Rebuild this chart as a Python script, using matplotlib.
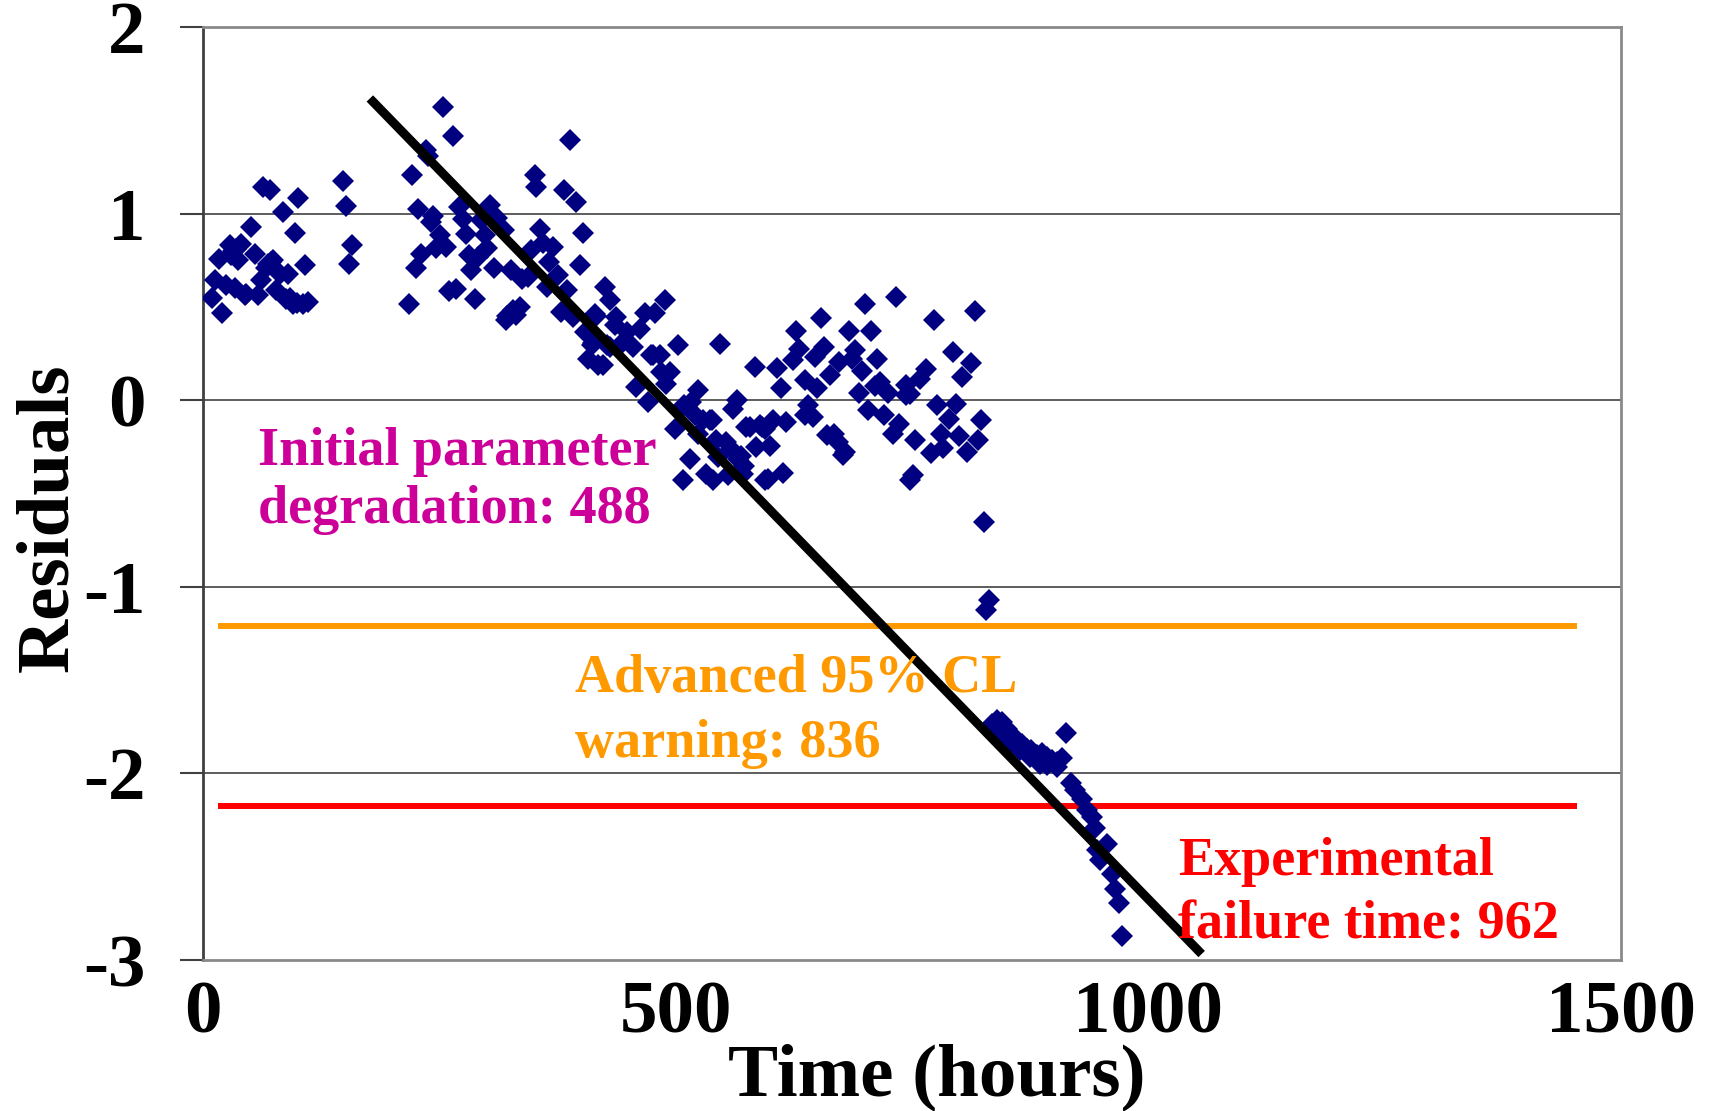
import matplotlib
matplotlib.use("Agg")
import matplotlib.pyplot as plt

# ---- data -------------------------------------------------------------
time_h = [
    10, 12.5, 17, 20.6, 24, 28.3, 30, 31.5, 33.6, 35, 37, 40.7, 44.2, 46, 51.3,
    54.8, 58.3, 61.8, 63.6, 67.1, 69, 70.7, 72, 74.2, 77.7, 81.3, 84.8, 88.3,
    90, 92, 95.3, 97, 99, 100.6, 106, 107.7, 111.2,
    148.2, 151.7, 154.5, 158,
    218, 221.2, 225, 227.5, 231, 236.4, 238, 241.7, 243.4, 247, 250.5, 254,
    257.5, 260.4, 264.6, 268, 270.8, 275, 277.8, 281.3, 283.8, 287.3, 290.9,
    294.4, 297.9, 300.4, 303.9, 307.4, 311.3, 318, 320.2, 322, 326.2, 327.9,
    331.5, 335, 337, 343.9, 347.4, 351, 352, 356.3, 359.8, 363.4, 366, 370.4,
    375.7, 378.2, 381.7, 385.3, 388.1, 391, 395.1, 398.7, 402.2, 403.9, 407.5,
    411, 412.7, 414.6,
    416.2, 417.8, 423.3, 425, 427.5, 430.3, 431, 436.3, 437.4, 443, 448, 455,
    457.8, 462, 467.4, 470.9, 474.4, 476.2, 478, 483.3, 485, 488.5, 490.3,
    493.8, 499, 502,
    508, 508.9, 515, 516, 520, 523.6, 523.8, 529, 532.5, 536, 538, 539.5,
    542.9, 545, 547.4, 553.5, 555, 558.8, 560.8, 564.4, 566, 569, 571, 572,
    574.9, 583.7, 585.5, 589, 594, 594.3,
    578.5, 590.8, 597.8, 600.3, 603.1, 607.3, 611, 613.7, 617.2, 623.6, 627.1,
    630.6, 636.6, 637, 640, 645, 647.2, 650, 653.9, 657, 659.6, 663.4, 668,
    671.5, 673, 676.6, 679, 683.5, 687, 689.5, 693.8, 696.6, 700, 703.6, 706.4,
    710.7, 713.5, 716.3, 720.2, 724.8, 729.4, 732.9, 736.4, 743.5, 744, 747.8,
    748, 751, 753, 758.3, 765.3, 769.6, 773, 776, 781.2, 782.6, 789.3, 792.9,
    796.4, 800, 803.4, 807.7, 812.9, 816.5, 819.3, 822.8,
    826, 828.3, 831.5,
    834.1, 839.4, 844.7, 850.0, 855.3, 860.6, 865.9, 871.2, 876.4, 881.7,
    887.0, 892.3, 897.6, 902.9, 908.2,
    842.9, 853.6, 864.2, 874.8, 885.3, 892.3, 902.9,
    912.7, 918.7, 922.2, 929.3, 934.6, 939.9, 943.4, 945.2, 948.7, 955.8,
    961.1, 964.6, 969.1, 972.3,
]

residual = [
    0.55, 0.643, 0.759, 0.468, 0.62, 0.83, 0.78, 0.80, 0.60, 0.81, 0.75, 0.836,
    0.563, 0.57, 0.929, 0.786, 0.563, 0.643, 1.143, 0.706, 0.73, 1.125, 0.74,
    0.75, 0.59, 0.679, 1.009, 0.545, 0.679, 0.55, 0.518, 0.897, 0.52, 1.081,
    0.518, 0.723, 0.527,
    1.174, 1.04, 0.729, 0.834,
    0.514, 1.206, 0.706, 1.024, 0.786, 1.34, 1.31, 0.957, 0.986, 0.813, 0.884,
    1.572, 0.821, 0.586, 1.415, 0.598, 1.033, 0.973, 0.893, 0.777, 0.697,
    0.541, 0.766, 0.965, 0.884, 0.813, 1.045, 0.706, 0.979, 0.911, 0.429,
    0.45, 0.697, 0.482, 0.455, 0.5, 0.65, 0.661, 0.804, 1.206, 1.14, 0.92,
    0.84, 0.607, 0.74, 0.821, 0.67, 0.473, 1.125, 0.593, 1.393, 0.446, 1.063,
    0.723, 0.898, 0.366, 0.223, 0.295, 0.304, 0.464,
    0.45, 0.188, 0.188, 0.607, 0.295, 0.536, 0.286, 0.402, 0.446, 0.304,
    0.366, 0.286, 0.071, 0.384, 0.465, -0.009, 0.241, 0.241, 0.465, 0.241,
    0.15, 0.536, 0.089, 0.152, -0.152, 0.295,
    -0.429, -0.027, -0.313, -0.009, -0.08, -0.179, 0.057, -0.107, -0.393,
    -0.105, -0.107, -0.429, -0.214, -0.304, 0.3, -0.223, -0.402, -0.259,
    -0.045, 0.0, -0.313, -0.30, -0.393, -0.35, -0.143, 0.179, -0.25, -0.134,
    -0.429, -0.152,
    -0.143, -0.143, -0.424, -0.246, -0.107, 0.175, 0.066, -0.39, -0.116,
    0.214, 0.371, 0.277, -0.079, 0.107, -0.027, -0.089, 0.229, 0.066, 0.441,
    0.286, -0.188, 0.134, -0.179, -0.223, 0.205, -0.295, -0.277, 0.371, 0.223,
    0.268, 0.039, 0.157, 0.514, -0.054, 0.371, 0.075, 0.223, 0.098, -0.077,
    0.039, -0.182, 0.554, -0.129, 0.08, 0.027, 0.035, -0.429, -0.40, -0.214,
    0.116, 0.168, -0.282, 0.429, -0.027, -0.179, -0.257, -0.1, 0.259, -0.02,
    -0.191, 0.125, -0.277, 0.2, 0.479, -0.214, -0.107,
    -0.654, -1.125, -1.072,
    -1.733, -1.715, -1.724, -1.76, -1.804, -1.822, -1.84, -1.867, -1.876,
    -1.902, -1.893, -1.912, -1.929, -1.938, -1.92,
    -1.786, -1.831, -1.876, -1.912, -1.947, -1.956, -1.965,
    -1.786, -2.054, -2.09, -2.135, -2.197, -2.233, -2.295, -2.412, -2.465,
    -2.376, -2.537, -2.617, -2.697, -2.872,
]

trend_time = [176.5, 1056.4]
trend_resid = [1.617, -2.968]

threshold_span = [16, 1453]
warning_level = -1.211
failure_level = -2.174

x_ticks = [0, 500, 1000, 1500]
y_ticks = [-3, -2, -1, 0, 1, 2]

# ---- styling ----------------------------------------------------------
plt.rcParams["font.family"] = ["Liberation Serif", "DejaVu Serif"]
plt.rcParams["font.weight"] = "bold"
plt.rcParams["axes.unicode_minus"] = False

NAVY = "#000080"
ORANGE = "#FF9900"
RED = "#FF0000"
MAGENTA = "#CC0099"

fig = plt.figure(figsize=(17.13, 11.11), dpi=100)
ax = fig.add_axes([0.1185, 0.1359, 0.8278, 0.8398])

ax.set_xlim(0, 1500)
ax.set_ylim(-3, 2)
ax.set_xticks(x_ticks)
ax.set_yticks(y_ticks)

for y in y_ticks[1:-1]:
    ax.axhline(y, color="#505050", lw=1.3, zorder=1)

for side in ("top", "right", "bottom"):
    ax.spines[side].set_color("#8a8a8a")
    ax.spines[side].set_linewidth(2.0)
ax.spines["left"].set_color("#404040")
ax.spines["left"].set_linewidth(2.0)

ax.tick_params(axis="y", direction="out", length=16.5, width=1.5,
               color="#404040", pad=25, labelsize=54)
ax.tick_params(axis="x", length=0, pad=15, labelsize=54)
for lab in ax.get_xticklabels() + ax.get_yticklabels():
    lab.set_fontweight("bold")

# threshold lines
ax.plot(threshold_span, [warning_level, warning_level], color=ORANGE, lw=4.3,
        solid_capstyle="butt", zorder=2)
ax.plot(threshold_span, [failure_level, failure_level], color=RED, lw=4.3,
        solid_capstyle="butt", zorder=2)

# residual points
ax.plot(time_h, residual, linestyle="none", marker="D", ms=11,
        mfc=NAVY, mec=NAVY, mew=0, zorder=3)

# degradation trend
ax.plot(trend_time, trend_resid, color="black", lw=6.5, zorder=4,
        solid_capstyle="butt")

# annotations
def two_lines(x, y1, y2, l1, l2, color):
    for y, s in ((y1, l1), (y2, l2)):
        ax.text(x, y, s, color=color, fontsize=39, fontweight="bold",
                ha="left", va="baseline", zorder=5)

two_lines(58, -0.348, -0.659, "Initial parameter", "degradation: 488", MAGENTA)
two_lines(394, -1.563, -1.912, "Advanced 95% CL", "warning: 836", ORANGE)
two_lines(1031, -2.546, -2.883, "Experimental", "failure time: 962", RED)

fig.text(0.547, 1 - 1095 / 1111, "Time (hours)", fontsize=54,
         fontweight="bold", ha="center", va="baseline")
fig.text(0.0286, 0.534, "Residuals", fontsize=54, fontweight="bold",
         rotation=90, ha="center", va="center")

fig.savefig("out.png", dpi=100)
